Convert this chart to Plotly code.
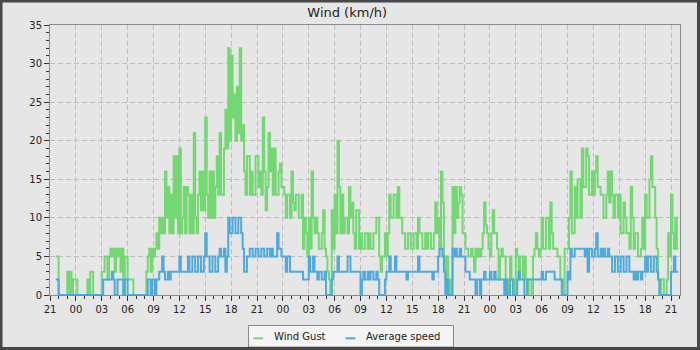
import plotly.graph_objects as go
from datetime import datetime, timedelta

# ---------------- data (km/h), 10-minute readings starting 21:40 ----------------
series_names = ["Wind Gust", "Average speed"]

# day 1 evening (21:40 - 23:50) and day 2 (00:00 - 23:50)
gust_day1 = [5, 5,
             0, 0, 0, 0, 0, 0,
             3, 0, 3, 0, 2, 2]
gust_day2 = [2, 0, 0, 0, 0, 0,
             0, 0, 2, 0, 3, 3,
             0, 0, 0, 0, 0, 0,
             3, 3, 5, 5, 2, 5,
             6, 5, 6, 3, 6, 5,
             6, 3, 6, 0, 5, 5,
             2, 2, 2, 2, 0, 0,
             0, 0, 0, 0, 0, 0,
             0, 3, 5, 6, 3, 6,
             5, 6, 8, 6, 10, 8,
             10, 8, 16, 10, 14, 8,
             13, 8, 18, 10, 18, 8,
             19, 8, 10, 14, 8, 14,
             13, 8, 13, 8, 21, 10,
             8, 13, 16, 11, 16, 11,
             23, 13, 10, 16, 10, 16,
             10, 14, 18, 13, 21, 13,
             13, 19, 24, 19, 32, 20,
             31, 23, 26, 20, 27, 21,
             32, 20, 22, 16, 13, 18,
             18, 13, 16, 13, 13, 18]
gust_day3 = [18, 14, 16, 13, 23, 16,
             11, 14, 21, 16, 19, 13,
             19, 13, 13, 16, 17, 14,
             14, 13, 10, 13, 13, 10,
             16, 12, 11, 13, 13, 10,
             10, 13, 6, 10, 8, 5,
             10, 6, 16, 10, 8, 10,
             8, 6, 6, 8, 11, 6,
             5, 3, 2, 0, 11, 6,
             13, 8, 20, 14, 8, 13,
             8, 10, 10, 8, 14, 10,
             12, 8, 6, 11, 11, 6,
             8, 6, 6, 8, 8, 6,
             8, 6, 6, 8, 8, 10,
             10, 5, 3, 5, 5, 8,
             5, 8, 13, 10, 10, 13,
             13, 10, 14, 10, 10, 8,
             8, 6, 6, 8, 8, 6,
             6, 8, 8, 6, 10, 8,
             8, 6, 6, 8, 6, 8,
             8, 6, 6, 8, 12, 8,
             10, 6, 16, 12, 5, 2,
             5, 2, 0, 2, 14, 8,
             14, 10, 12, 14, 13, 8]
gust_day4 = [8, 6, 6, 5, 5, 6,
             5, 3, 6, 5, 6, 5,
             6, 8, 12, 9, 8, 6,
             5, 8, 11, 8, 8, 6,
             2, 5, 6, 5, 5, 2,
             0, 2, 5, 2, 2, 0,
             6, 5, 2, 5, 5, 2,
             5, 2, 0, 2, 2, 0,
             5, 6, 8, 6, 5, 6,
             10, 6, 6, 10, 10, 6,
             12, 8, 6, 6, 6, 5,
             5, 2, 2, 0, 6, 6,
             6, 10, 16, 8, 8, 14,
             10, 15, 15, 10, 19, 14,
             14, 19, 18, 13, 13, 16,
             13, 16, 18, 14, 14, 13,
             13, 10, 10, 13, 16, 12,
             16, 13, 10, 13, 13, 10,
             13, 8, 8, 12, 10, 8,
             8, 6, 14, 10, 6, 8,
             8, 5, 5, 6, 10, 6,
             13, 10, 10, 15, 18, 14,
             14, 10, 6, 2, 0, 2,
             2, 0, 0, 2, 8, 5]
gust_day5 = [13, 8, 6, 10, 6, 6]

avg_day1 = [2, 2,
            0, 0, 0, 0, 0, 0,
            0, 0, 0, 0, 0, 0]
avg_day2 = [0, 0, 0, 0, 0, 0,
            0, 0, 0, 0, 0, 0,
            0, 0, 0, 0, 0, 0,
            0, 2, 2, 2, 2, 2,
            2, 3, 2, 0, 0, 2,
            2, 2, 2, 0, 2, 2,
            0, 0, 0, 0, 0, 0,
            0, 0, 0, 0, 0, 0,
            0, 0, 2, 2, 0, 2,
            2, 0, 2, 2, 3, 3,
            5, 3, 2, 2, 3, 2,
            3, 3, 3, 3, 3, 3,
            5, 3, 3, 3, 3, 3,
            5, 3, 3, 5, 5, 3,
            3, 5, 5, 3, 3, 5,
            8, 5, 5, 3, 3, 5,
            5, 3, 3, 5, 6, 5,
            5, 6, 3, 5, 10, 8,
            8, 10, 10, 8, 8, 10,
            10, 8, 6, 3, 3, 5,
            5, 6, 6, 5, 5, 6]
avg_day3 = [6, 5, 5, 6, 6, 5,
            5, 6, 6, 5, 6, 5,
            5, 5, 8, 6, 6, 5,
            5, 5, 3, 5, 5, 3,
            3, 3, 3, 3, 3, 3,
            3, 3, 2, 2, 2, 2,
            5, 3, 3, 5, 3, 3,
            2, 3, 3, 2, 2, 3,
            0, 0, 0, 0, 2, 3,
            3, 3, 5, 3, 3, 3,
            3, 3, 3, 5, 5, 3,
            3, 3, 3, 3, 3, 3,
            0, 2, 3, 2, 2, 3,
            2, 3, 3, 2, 2, 3,
            2, 0, 0, 0, 0, 2,
            3, 3, 5, 3, 3, 3,
            5, 3, 3, 3, 3, 3,
            3, 3, 2, 3, 3, 3,
            3, 3, 3, 3, 5, 3,
            3, 3, 3, 3, 3, 3,
            3, 3, 2, 3, 3, 3,
            5, 6, 6, 5, 3, 0,
            2, 0, 0, 0, 6, 5,
            6, 5, 5, 6, 5, 5]
avg_day4 = [5, 3, 3, 3, 2, 2,
            2, 2, 0, 2, 2, 0,
            2, 2, 3, 2, 2, 2,
            3, 2, 2, 3, 2, 2,
            2, 2, 2, 2, 0, 2,
            0, 0, 2, 2, 0, 0,
            0, 2, 3, 2, 2, 2,
            0, 0, 2, 2, 2, 2,
            2, 2, 2, 2, 2, 2,
            3, 2, 2, 3, 3, 3,
            3, 3, 3, 2, 2, 2,
            2, 2, 0, 0, 0, 0,
            3, 2, 6, 5, 5, 6,
            6, 6, 6, 6, 6, 6,
            5, 6, 3, 6, 6, 5,
            5, 6, 8, 5, 5, 6,
            5, 6, 5, 5, 6, 5,
            5, 3, 3, 5, 5, 3,
            3, 5, 5, 3, 3, 5,
            5, 3, 3, 3, 2, 3,
            2, 3, 3, 2, 3, 3,
            5, 3, 5, 5, 3, 3,
            5, 5, 3, 2, 0, 0,
            0, 0, 0, 0, 0, 0]
avg_day5 = [3, 3, 5, 3, 3, 3]

gust_kmh = gust_day1 + gust_day2 + gust_day3 + gust_day4 + gust_day5
avg_kmh = avg_day1 + avg_day2 + avg_day3 + avg_day4 + avg_day5

y_ticks = [0, 5, 10, 15, 20, 25, 30, 35]

start = datetime(2024, 3, 1, 21, 40)
step = timedelta(minutes=10)
times = [start + i * step for i in range(len(gust_kmh))]

GREEN = "#72d872"
BLUE = "#4eaadc"
FONT = "DejaVu Sans"

# ---------------- layout helpers (pixel -> paper) ----------------
L, R, T, B = 50, 20, 25, 55
W, H = 700, 350
PW, PH = W - L - R, H - T - B


def px(x):
    return (x - L) / PW


def py(y):
    return (H - B - y) / PH


fig = go.Figure()
fig.add_trace(go.Scatter(x=times, y=gust_kmh, mode="lines", name=series_names[0],
                         line=dict(shape="hv", color=GREEN, width=2),
                         showlegend=False, cliponaxis=False))
fig.add_trace(go.Scatter(x=times, y=avg_kmh, mode="lines", name=series_names[1],
                         line=dict(shape="hv", color=BLUE, width=2),
                         showlegend=False, cliponaxis=False))

axis_common = dict(
    ticks="outside", ticklen=5, tickcolor="#333", tickwidth=1,
    showgrid=True, gridcolor="#bdbdbd", gridwidth=1, griddash="5px,3px",
    showline=True, linecolor="#8a8a8a", linewidth=1, mirror=True,
    zeroline=False, layer="below traces",
    tickfont=dict(family=FONT, size=10, color="#222"),
)

fig.update_layout(
    width=W, height=H, autosize=False,
    margin=dict(l=L, r=R, t=T, b=B),
    paper_bgcolor="#e6e6e6", plot_bgcolor="#e6e6e6",
    title=dict(text="Wind (km/h)", x=0.496, xref="container", xanchor="center",
               y=1 - 12 / H, yref="container", yanchor="middle",
               font=dict(family=FONT, size=13, color="#222")),
    showlegend=False,
    xaxis=dict(type="date",
               range=[datetime(2024, 3, 1, 21, 0), datetime(2024, 3, 4, 22, 2, 30)],
               tick0=datetime(2024, 3, 1, 21, 0), dtick=3 * 3600 * 1000,
               tickformat="%H",
               minor=dict(dtick=3600 * 1000, ticks="outside", ticklen=3,
                          tickcolor="#333", showgrid=False),
               **axis_common),
    yaxis=dict(range=[0, 35], tickvals=y_ticks,
               minor=dict(dtick=1, ticks="outside", ticklen=3,
                          tickcolor="#333", showgrid=False),
               **axis_common),
)

shapes = [
    # outer frame
    dict(type="rect", xref="paper", yref="paper",
         x0=px(1), x1=px(698.5), y0=py(1), y1=py(348.5),
         line=dict(color="#474747", width=3), fillcolor="rgba(0,0,0,0)", layer="above"),
    # legend box
    dict(type="rect", xref="paper", yref="paper",
         x0=px(248.5), x1=px(453.5), y0=py(325.5), y1=py(347),
         line=dict(color="#8a8a8a", width=1), fillcolor="#f4f4f4", layer="below"),
    dict(type="line", xref="paper", yref="paper",
         x0=px(253.5), x1=px(263), y0=py(338.3), y1=py(338.3),
         line=dict(color=GREEN, width=2)),
    dict(type="line", xref="paper", yref="paper",
         x0=px(345.5), x1=px(355.5), y0=py(338.3), y1=py(338.3),
         line=dict(color=BLUE, width=2)),
]
fig.update_layout(shapes=shapes)

fig.add_annotation(text=series_names[0], xref="paper", yref="paper",
                   x=px(272), y=py(337), xanchor="left", yanchor="middle",
                   showarrow=False, font=dict(family=FONT, size=10, color="#222"))
fig.add_annotation(text=series_names[1], xref="paper", yref="paper",
                   x=px(364), y=py(337), xanchor="left", yanchor="middle",
                   showarrow=False, font=dict(family=FONT, size=10, color="#222"))

fig.write_html("out.html")
